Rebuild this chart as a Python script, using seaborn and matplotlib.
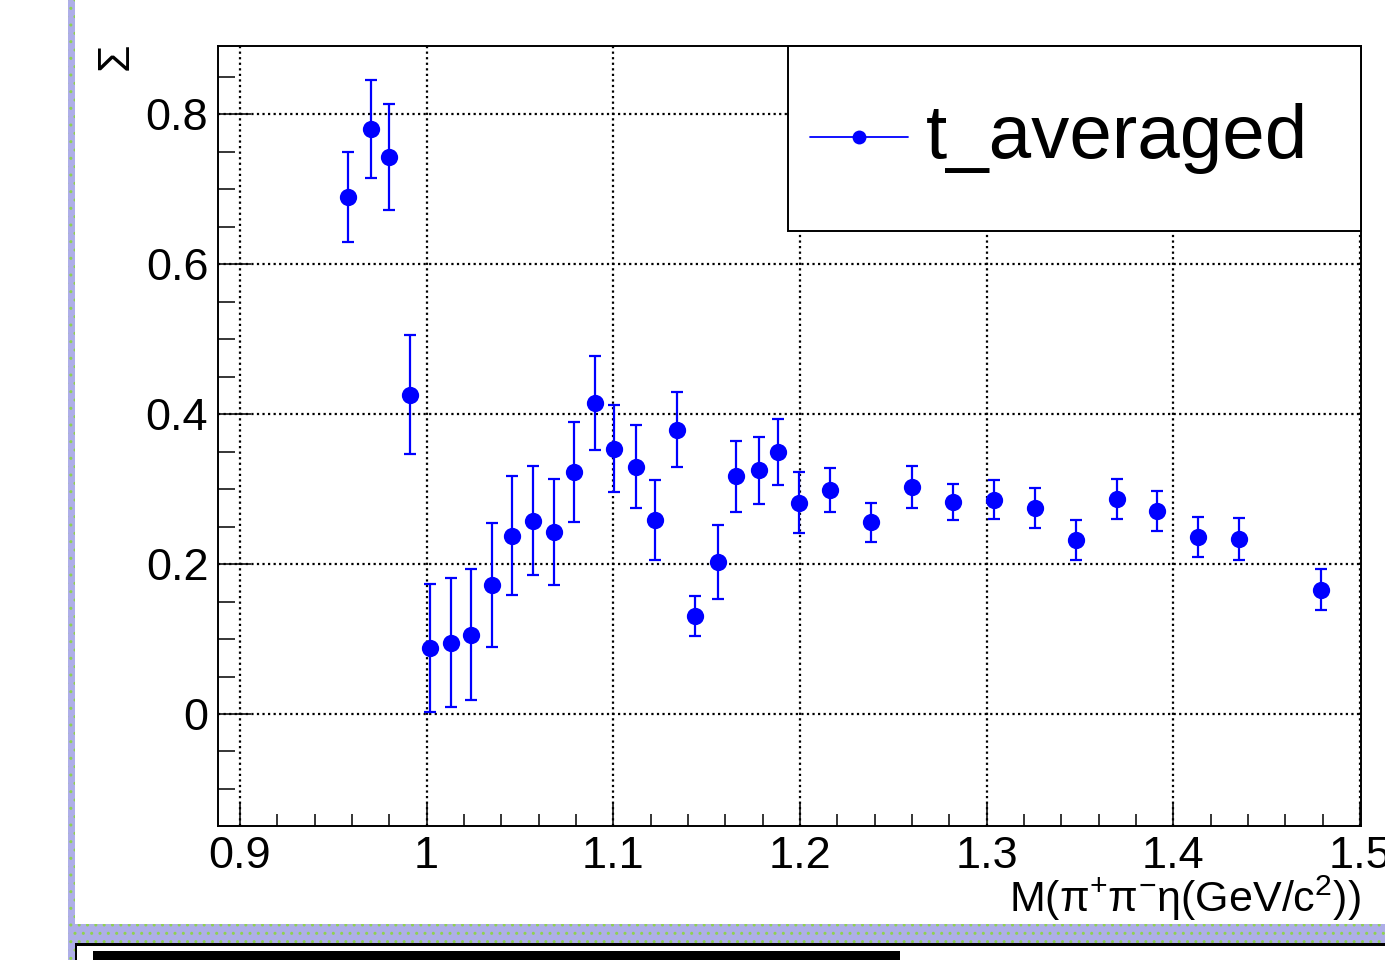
import numpy as np
import pandas as pd
import matplotlib
matplotlib.use("Agg")
import matplotlib.pyplot as plt
import seaborn as sns
from matplotlib.lines import Line2D
from matplotlib.patches import Rectangle
from matplotlib.ticker import MultipleLocator, FuncFormatter

# ---------------- data ----------------
mass = [0.958, 0.970, 0.980, 0.991, 1.002, 1.013, 1.024, 1.035, 1.046, 1.057,
        1.068, 1.079, 1.090, 1.1005, 1.112, 1.1225, 1.134, 1.144, 1.156, 1.166,
        1.178, 1.188, 1.1995, 1.216, 1.238, 1.260, 1.282, 1.304, 1.326, 1.348,
        1.370, 1.391, 1.413, 1.435, 1.479]
sigma = [0.690, 0.780, 0.743, 0.426, 0.088, 0.095, 0.106, 0.172, 0.238, 0.258,
         0.243, 0.323, 0.415, 0.354, 0.330, 0.259, 0.379, 0.131, 0.203, 0.317,
         0.325, 0.350, 0.282, 0.299, 0.256, 0.303, 0.283, 0.286, 0.275, 0.232,
         0.287, 0.271, 0.236, 0.234, 0.166]
sigma_err = [0.060, 0.065, 0.071, 0.079, 0.085, 0.086, 0.087, 0.083, 0.079, 0.073,
             0.071, 0.067, 0.063, 0.058, 0.055, 0.053, 0.050, 0.027, 0.049, 0.047,
             0.045, 0.044, 0.041, 0.029, 0.026, 0.028, 0.024, 0.026, 0.027, 0.027,
             0.027, 0.027, 0.027, 0.028, 0.027]
series_label = "t_averaged"
x_title = r"M($\mathregular{\pi^{+}\pi^{-}\eta}$(GeV/c$\mathregular{^{2}}$))"
y_title = "Σ"

df = pd.DataFrame({"mass": mass, "sigma": sigma, "err": sigma_err})

# ---------------- style ----------------
sns.set_theme(style="white")
plt.rcParams["font.family"] = ["Liberation Sans", "DejaVu Sans"]
plt.rcParams["mathtext.fontset"] = "custom"
plt.rcParams["mathtext.rm"] = "Liberation Sans"
plt.rcParams["mathtext.it"] = "Liberation Sans:italic"
plt.rcParams["mathtext.bf"] = "Liberation Sans:bold"
for k in ["text.color", "axes.labelcolor", "xtick.color", "ytick.color"]:
    plt.rcParams[k] = "black"

W, H = 1385, 960
fig = plt.figure(figsize=(W / 100, H / 100), dpi=100)
fig.patch.set_facecolor("white")

# canvas decorations (ROOT pad borders)
purple = "#aeaee8"
green = "#8fd24f"
def fig_rect(x0, y0, x1, y1, **kw):
    # pixel coords, y from top
    r = Rectangle((x0 / W, 1 - y1 / H), (x1 - x0) / W, (y1 - y0) / H,
                  transform=fig.transFigure, **kw)
    fig.patches.append(r)
    return r

fig_rect(68, 0, 75, 960, facecolor=purple, edgecolor=green, hatch="..", lw=0)
fig_rect(68, 924, 1385, 943, facecolor=purple, edgecolor=green, hatch="..", lw=0)
fig_rect(75, 943, 1385, 945.5, facecolor="black", lw=0)
fig_rect(75, 943, 77, 960, facecolor="black", lw=0)
fig_rect(93, 951, 900, 960, facecolor="black", lw=0)

ax = fig.add_axes([218 / W, 1 - 826 / H, 1143 / W, 780 / H])
ax.set_facecolor("white")

# ---------------- marks ----------------
ax.errorbar(df["mass"], df["sigma"], yerr=df["err"], fmt="none",
            ecolor="#0000ff", elinewidth=1.6, capsize=4.3, capthick=1.6, zorder=3)
sns.scatterplot(data=df, x="mass", y="sigma", color="#0000ff", s=155,
                linewidth=0, ax=ax, zorder=4, legend=False)

# ---------------- axes ----------------
ax.set_xlim(0.8883, 1.5005)
ax.set_ylim(-0.1494, 0.891)
ax.xaxis.set_major_locator(MultipleLocator(0.1))
ax.xaxis.set_minor_locator(MultipleLocator(0.02))
ax.yaxis.set_major_locator(MultipleLocator(0.2))
ax.yaxis.set_minor_locator(MultipleLocator(0.05))
fmt = FuncFormatter(lambda v, p: "%g" % round(v, 6))
ax.xaxis.set_major_formatter(fmt)
ax.yaxis.set_major_formatter(fmt)

ax.tick_params(axis="x", which="major", direction="in", length=17, width=1.1,
               labelsize=32.5, pad=7, colors="black", bottom=True, top=False)
ax.tick_params(axis="x", which="minor", direction="in", length=8.5, width=1.1,
               bottom=True, top=False)
ax.tick_params(axis="y", which="major", direction="in", length=24, width=1.1,
               labelsize=32.5, pad=7, colors="black", left=True, right=False)
ax.tick_params(axis="y", which="minor", direction="in", length=12, width=1.1,
               left=True, right=False)

for s in ax.spines.values():
    s.set_visible(True)
    s.set_color("black")
    s.set_linewidth(1.4)

ax.grid(True, which="major", color="black", linestyle=(0, (1, 1.5)), linewidth=1.6)
ax.set_axisbelow(True)

ax.set_xlabel(x_title, fontsize=31, loc="right")
ax.xaxis.set_label_coords(1.0, -0.061)
ax.set_ylabel(y_title, fontsize=32, loc="top")
ax.yaxis.set_label_coords(-0.071, 1.004)

# legend box
box = Rectangle((0.4987, 0.7628), 0.5013, 0.2372, transform=ax.transAxes,
                facecolor="white", edgecolor="black", lw=1.4, zorder=5, clip_on=False)
ax.add_patch(box)
handle = Line2D([], [], color="#0000ff", lw=1.3, marker="o", markersize=10,
                markeredgewidth=0)
leg = ax.legend([handle], [series_label], loc="center left",
                bbox_to_anchor=((810 - 218) / 1143, (826 - 139) / 780),
                frameon=False, fontsize=55, handlelength=1.28, handletextpad=0.24,
                handleheight=0.25, borderpad=0, borderaxespad=0, labelcolor="black")
leg.set_zorder(6)

fig.savefig("out.png", dpi=100, facecolor="white")
